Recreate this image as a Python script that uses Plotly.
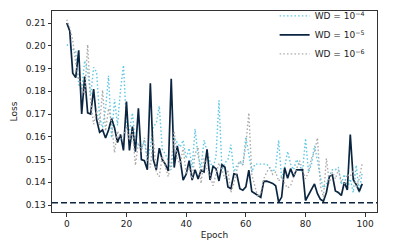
import plotly.graph_objects as go

epochs = list(range(100))

loss_wd_1e4 = [0.2005, 0.1998, 0.1985, 0.1975, 0.183, 0.1805, 0.1935, 0.189, 0.178, 0.1905,
               0.1885, 0.1685, 0.164, 0.1725, 0.1868, 0.1595, 0.1765, 0.165, 0.1805, 0.1915,
               0.1655, 0.1625, 0.1705, 0.1575, 0.157, 0.1545, 0.1585, 0.149, 0.156, 0.1645,
               0.166, 0.1735, 0.1545, 0.1525, 0.1495, 0.1455, 0.1595, 0.1575, 0.1555, 0.1585,
               0.1505, 0.155, 0.1465, 0.1634, 0.1515, 0.1465, 0.1585, 0.1535, 0.149, 0.146,
               0.1515, 0.176, 0.1455, 0.1485, 0.150, 0.1565, 0.1445, 0.1475, 0.149, 0.1475,
               0.160, 0.1525, 0.1445, 0.148, 0.148, 0.148, 0.148, 0.148, 0.1465, 0.1445,
               0.1465, 0.1585, 0.1415, 0.1465, 0.1536, 0.148, 0.1455, 0.150, 0.1475, 0.1445,
               0.1593, 0.1445, 0.148, 0.156, 0.1495, 0.142, 0.1375, 0.139, 0.143, 0.1455,
               0.1455, 0.1466, 0.139, 0.1435, 0.137, 0.1415, 0.1355, 0.1475, 0.1355, 0.1445]

loss_wd_1e5 = [0.210, 0.2065, 0.188, 0.186, 0.198, 0.170, 0.1865, 0.1705, 0.170, 0.181,
               0.1675, 0.162, 0.163, 0.1595, 0.163, 0.168, 0.164, 0.1575, 0.161, 0.154,
               0.1755, 0.154, 0.1645, 0.1535, 0.1725, 0.150, 0.1495, 0.1455, 0.1835, 0.150,
               0.1455, 0.155, 0.150, 0.148, 0.145, 0.1855, 0.1465, 0.156, 0.150, 0.141,
               0.1435, 0.1495, 0.141, 0.1455, 0.1415, 0.1453, 0.1446, 0.1545, 0.141, 0.147,
               0.146, 0.1406, 0.1477, 0.1466, 0.1379, 0.1372, 0.1437, 0.1434, 0.1372, 0.1365,
               0.138, 0.1453, 0.136, 0.135, 0.134, 0.1334, 0.1404, 0.1405, 0.140, 0.1395,
               0.1385, 0.1313, 0.1335, 0.1464, 0.1418, 0.146, 0.1425, 0.1455, 0.1455, 0.1455,
               0.132, 0.1345, 0.1375, 0.1393, 0.135, 0.1325, 0.1317, 0.1355, 0.1425, 0.1432,
               0.1362, 0.1355, 0.1342, 0.140, 0.1366, 0.161, 0.1411, 0.139, 0.136, 0.1393]

loss_wd_1e6 = [0.2115, 0.208, 0.2025, 0.1925, 0.1855, 0.1825, 0.1785, 0.2005, 0.1755, 0.1655,
               0.1715, 0.165, 0.1805, 0.1625, 0.1725, 0.1665, 0.153, 0.1625, 0.159, 0.1605,
               0.1645, 0.1585, 0.1625, 0.1475, 0.1575, 0.1535, 0.1595, 0.1505, 0.1465, 0.1595,
               0.1445, 0.1425, 0.1515, 0.1465, 0.1425, 0.1485, 0.1625, 0.1505, 0.1475, 0.1555,
               0.1435, 0.1465, 0.1415, 0.1525, 0.1555, 0.1395, 0.1505, 0.1455, 0.1435, 0.1385,
               0.1435, 0.1485, 0.1455, 0.1415, 0.1455, 0.1355, 0.1395, 0.1455, 0.1495, 0.1475,
               0.1565, 0.1705, 0.1435, 0.1385, 0.1335, 0.1355, 0.1415, 0.1445, 0.1465, 0.1435,
               0.1445, 0.1405, 0.1425, 0.1395, 0.1375, 0.1385, 0.1425, 0.1455, 0.1495, 0.1455,
               0.1415, 0.1445, 0.1505, 0.1535, 0.1595, 0.1385, 0.1335, 0.1505, 0.1395, 0.1445,
               0.1415, 0.1455, 0.1405, 0.1395, 0.1435, 0.1425, 0.1455, 0.1375, 0.1415, 0.1485]

baseline_loss = 0.131

x_ticks = [0, 20, 40, 60, 80, 100]
y_ticks = [0.13, 0.14, 0.15, 0.16, 0.17, 0.18, 0.19, 0.20, 0.21]
y_tick_labels = ["0.13", "0.14", "0.15", "0.16", "0.17", "0.18", "0.19", "0.20", "0.21"]

series_names = ["WD = 10<sup>\u22124</sup>", "WD = 10<sup>\u22125</sup>", "WD = 10<sup>\u22126</sup>"]

FONT = "DejaVu Sans"
DARK = "#0b2540"

fig = go.Figure()
fig.add_trace(go.Scatter(x=epochs, y=loss_wd_1e4, mode="lines", name=series_names[0],
                         line=dict(color="#5cc6e3", width=1.4, dash="1.5px,2.2px")))
fig.add_trace(go.Scatter(x=epochs, y=loss_wd_1e5, mode="lines", name=series_names[1],
                         line=dict(color=DARK, width=1.7)))
fig.add_trace(go.Scatter(x=epochs, y=loss_wd_1e6, mode="lines", name=series_names[2],
                         line=dict(color="#aaaaaa", width=1.4, dash="1.5px,2.2px")))

fig.add_shape(type="line", xref="paper", x0=0, x1=1, yref="y", y0=baseline_loss, y1=baseline_loss,
              line=dict(color=DARK, width=1.5, dash="6px,3px"))

axis_common = dict(showline=True, linecolor="#333333", linewidth=1, mirror=True,
                   ticks="outside", ticklen=3.5, tickwidth=1, tickcolor="#333333",
                   showgrid=False, zeroline=False, automargin=False,
                   tickfont=dict(family=FONT, size=9, color="#222222"))

fig.update_layout(
    width=419, height=247,
    margin=dict(l=52, r=42, t=1, b=35),
    paper_bgcolor="white", plot_bgcolor="white",
    font=dict(family=FONT, size=9, color="#222222"),
    xaxis=dict(range=[-4.95, 103.95], tickvals=x_ticks,
               title=dict(text="Epoch", font=dict(family=FONT, size=9, color="#222222"), standoff=3),
               **axis_common),
    yaxis=dict(range=[0.12694, 0.2153], tickvals=y_ticks, ticktext=y_tick_labels,
               title=dict(text="Loss", font=dict(family=FONT, size=9, color="#222222"), standoff=6),
               **axis_common),
    legend=dict(x=0.685, y=1.048, xanchor="left", yanchor="top",
                bgcolor="rgba(255,255,255,0)", borderwidth=0,
                font=dict(family=FONT, size=9, color="#222222"), itemwidth=30, tracegroupgap=0),
    showlegend=True,
)

fig.write_html("out.html", config={"displayModeBar": False},
               post_script="document.body.style.margin='0';document.body.style.overflow='hidden';")
